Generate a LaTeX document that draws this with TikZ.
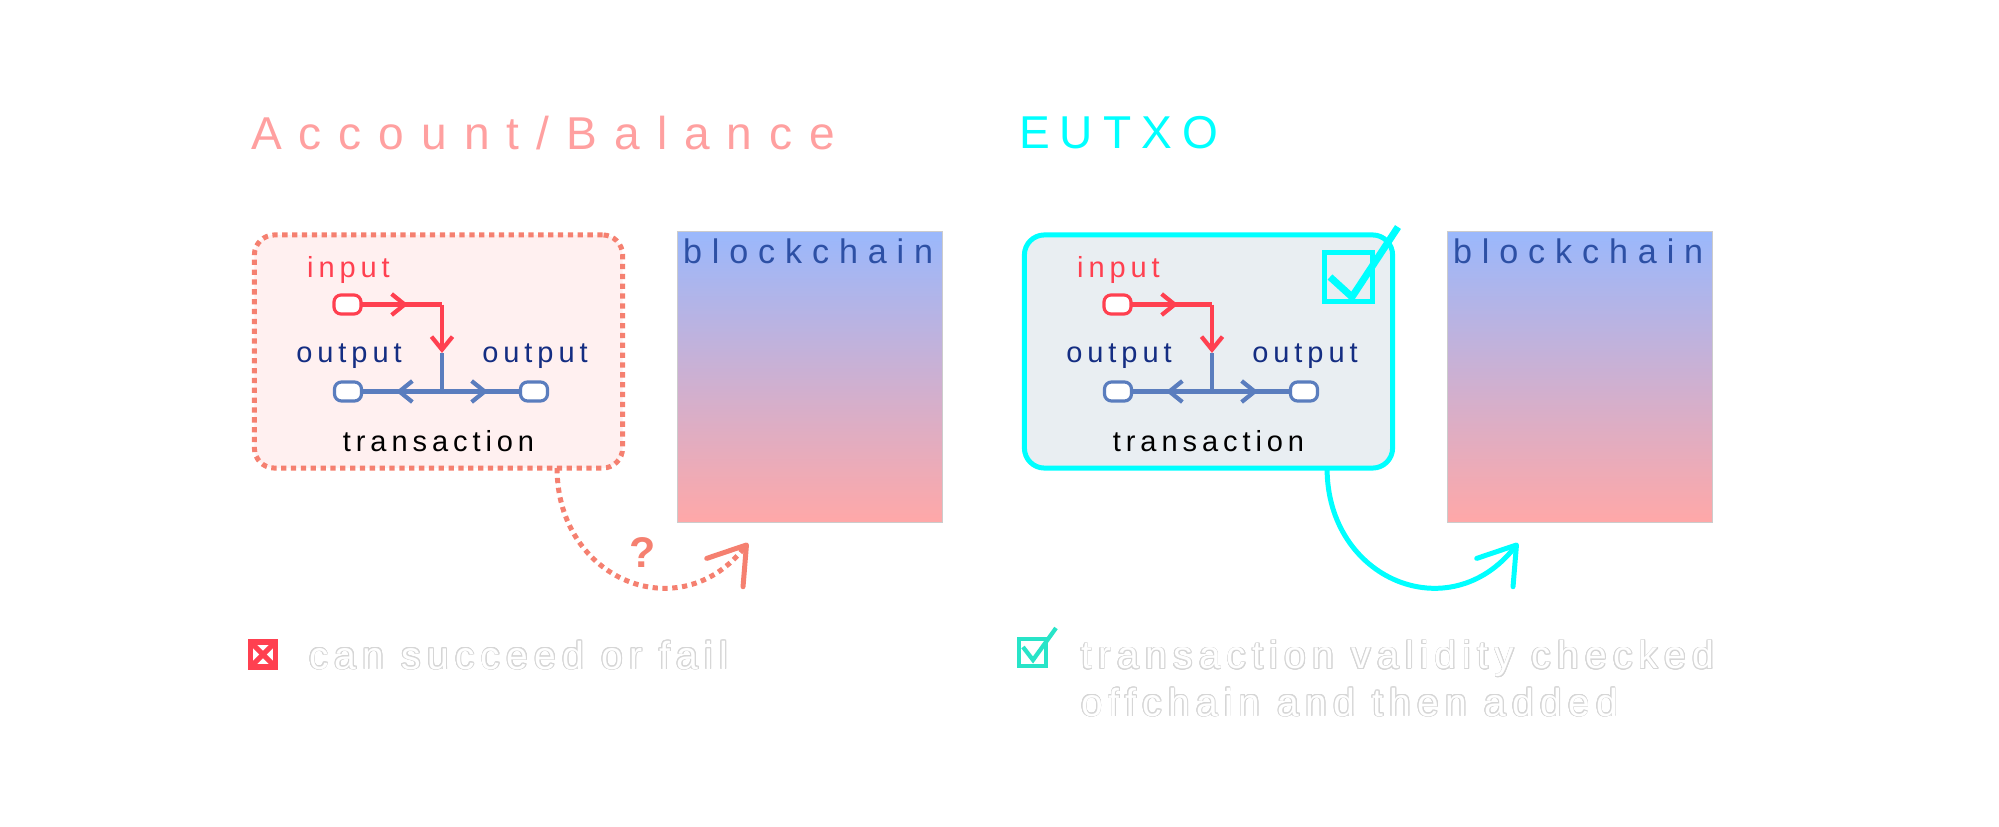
\documentclass[tikz,border=0pt]{standalone}
\usepackage{fontspec}
\setmainfont{Liberation Sans}
\newfontfamily\headfont[LetterSpace=37]{Liberation Sans}
\newfontfamily\shortheadfont[LetterSpace=22]{Liberation Sans}
\newfontfamily\chainfont[LetterSpace=29]{Liberation Sans}
\newfontfamily\labelfont[LetterSpace=17]{Liberation Sans}
\newfontfamily\notefont[LetterSpace=16]{Liberation Sans}
\usepackage{contour}
\contourlength{0.25pt}
\usetikzlibrary{arrows.meta,positioning,calc}
\definecolor{acctpink}{RGB}{255,160,160}
\definecolor{dotsalmon}{RGB}{245,128,112}
\definecolor{acctbg}{RGB}{255,240,240}
\definecolor{eutxocyan}{RGB}{0,255,255}
\definecolor{eutxobg}{RGB}{233,238,242}
\definecolor{inred}{RGB}{255,64,80}
\definecolor{outblue}{RGB}{90,125,190}
\definecolor{outnavy}{RGB}{20,45,130}
\definecolor{chaintop}{RGB}{154,184,252}
\definecolor{chainbot}{RGB}{255,168,168}
\definecolor{chaintext}{RGB}{45,80,165}
\definecolor{tickteal}{RGB}{40,228,200}

\begin{document}
\begin{tikzpicture}[
    x=0.01cm, y=-0.01cm,
    every node/.style={inner sep=0pt, outer sep=0pt},
    headtxt/.style={font=\headfont\fontsize{13.1}{15}\selectfont, anchor=base west},
    chaintxt/.style={font=\chainfont\fontsize{9.7}{11}\selectfont, text=chaintext, anchor=base west},
    lbl/.style={font=\labelfont\fontsize{8.25}{10}\selectfont, anchor=base},
    note/.style={font=\notefont\fontsize{11.1}{13.4}\selectfont, text=white, anchor=base west, align=left},
    txbox/.style={rectangle, rounded corners=0.2cm, minimum width=3.68cm, minimum height=2.33cm, line width=1.42pt},
    acctbox/.style={txbox, fill=acctbg, draw=dotsalmon, dash pattern=on 1.5pt off 1.3pt},
    eutxobox/.style={txbox, fill=eutxobg, draw=eutxocyan},
    chain/.style={rectangle, minimum width=2.64cm, minimum height=2.9cm, top color=chaintop, bottom color=chainbot, draw=black!20, line width=0.3pt},
    port/.style={rectangle, rounded corners=2pt, minimum width=0.27cm, minimum height=0.19cm, fill=white, line width=0.9pt},
    inport/.style={port, draw=inred},
    outport/.style={port, draw=outblue},
    redln/.style={draw=inred, line width=1.2pt},
    blueln/.style={draw=outblue, line width=1.2pt},
    smalltip/.style={-{Straight Barb[length=1.3mm,width=2.1mm]}},
    bigtip/.style={-{Straight Barb[length=3.5mm,width=4.6mm,round]}},
]

% ── canvas ──
\fill[white] (0,0) rectangle (1999,827);

% ── titles ──
\node[headtxt, text=acctpink] (accttitle) at (251,149) {Account/Balance};
\node[headtxt, font=\shortheadfont\fontsize{13.1}{15}\selectfont, text=eutxocyan] (eutxotitle) at (1019,148) {EUTXO};

% ── left: account/balance transaction ──
\node[acctbox] (accttx) at (438.5,351.5) {};
\node[chain] (chainA) at (810,377) {};
\node[chaintxt] (chainAlbl) at (683,263) {blockchain};
\begin{scope}
  \node[inport] (ain) at (347.5,304.5) {};
  \node[outport] (aoutl) at (348,391.5) {};
  \node[outport] (aoutr) at (534,391.5) {};
  \node[lbl, text=inred] (ainlbl) at (348.5,277) {input};
  \node[lbl, text=outnavy] (aoutllbl) at (349,362) {output};
  \node[lbl, text=outnavy] (aoutrlbl) at (535,362) {output};
  \node[lbl] (atxlbl) at (438.5,451) {transaction};
  \coordinate (acorner) at (442,304.5);
  \coordinate (asplit) at (442,353);
  \coordinate (ajoin) at (442,391.5);
  \coordinate (ainmid) at (408,304.5);
  \coordinate (aleft) at (396,391.5);
  \coordinate (aright) at (488,391.5);
  \draw[blueln] (asplit) -- (ajoin);
  \draw[blueln] (aoutl) -- (aoutr);
  \draw[blueln, smalltip] (ajoin) -- (aleft);
  \draw[blueln, smalltip] (ajoin) -- (aright);
  \draw[redln] (ain) -- (acorner);
  \draw[redln, smalltip] (ain) -- (ainmid);
  \draw[redln, smalltip] (acorner) -- (asplit);
\end{scope}
\coordinate (atip) at (748,543);
\draw[dotsalmon, line width=1.42pt, dash pattern=on 1.5pt off 1.3pt, bigtip]
  ([xshift=1.185cm]accttx.south) .. controls (557,580) and (680,630) .. (atip);
\node[font=\bfseries\fontsize{12.2}{14}\selectfont, text=dotsalmon] (qmark) at (643,553) {?};

% ── right: EUTXO transaction ──
\node[eutxobox] (eutxotx) at (1208.5,351.5) {};
\node[chain] (chainB) at (1580,377) {};
\node[chaintxt] (chainBlbl) at (1453,263) {blockchain};
\begin{scope}[shift={(770,0)}]
  \node[inport] (bin) at (347.5,304.5) {};
  \node[outport] (boutl) at (348,391.5) {};
  \node[outport] (boutr) at (534,391.5) {};
  \node[lbl, text=inred] (binlbl) at (348.5,277) {input};
  \node[lbl, text=outnavy] (boutllbl) at (349,362) {output};
  \node[lbl, text=outnavy] (boutrlbl) at (535,362) {output};
  \node[lbl] (btxlbl) at (438.5,451) {transaction};
  \coordinate (bcorner) at (442,304.5);
  \coordinate (bsplit) at (442,353);
  \coordinate (bjoin) at (442,391.5);
  \coordinate (binmid) at (408,304.5);
  \coordinate (bleft) at (396,391.5);
  \coordinate (bright) at (488,391.5);
  \draw[blueln] (bsplit) -- (bjoin);
  \draw[blueln] (boutl) -- (boutr);
  \draw[blueln, smalltip] (bjoin) -- (bleft);
  \draw[blueln, smalltip] (bjoin) -- (bright);
  \draw[redln] (bin) -- (bcorner);
  \draw[redln, smalltip] (bin) -- (binmid);
  \draw[redln, smalltip] (bcorner) -- (bsplit);
  % check box
  \node[draw=eutxocyan, line width=1.42pt, minimum size=0.48cm] (bchk) at (578.5,277) {};
  \draw[eutxocyan, line width=2pt] (560,277) -- (582,297) -- (628,227);
\end{scope}
\coordinate (btip) at (1518,543);
\draw[eutxocyan, line width=1.42pt, bigtip]
  ([xshift=1.185cm]eutxotx.south) .. controls (1327,580) and (1450,630) .. (btip);

% ── notes ──
\node[draw=inred, fill=white, line width=1.6pt, minimum size=0.25cm] (xmark) at (263,654.5) {};
\draw[inred, line width=1.5pt] (xmark.north west) -- (xmark.south east);
\draw[inred, line width=1.5pt] (xmark.north east) -- (xmark.south west);
\node[note] (failnote) at (309,669) {\contour{black!16}{can succeed or fail}};

\node[draw=tickteal, line width=1.1pt, minimum size=0.27cm] (tick) at (1032.5,652.5) {};
\draw[tickteal, line width=1.2pt] (1023,647) -- (1033,660) -- (1056,628);
\node[note] (oknote) at (1081,716) {\contour{black!16}{transaction validity checked}\\\contour{black!16}{offchain and then added}};

\end{tikzpicture}
\end{document}
